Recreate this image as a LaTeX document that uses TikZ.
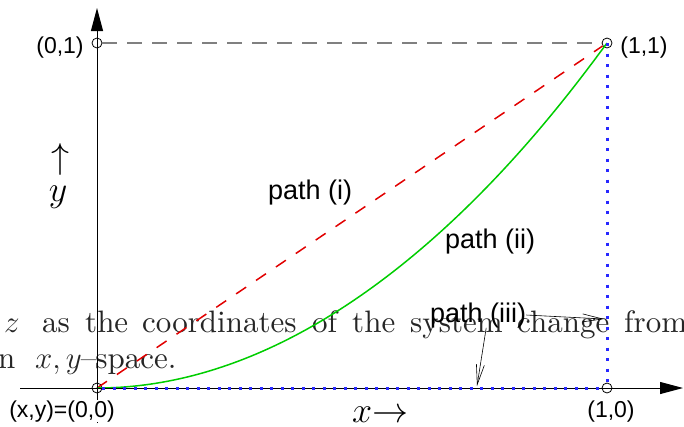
\RequirePackage{fix-cm}
\documentclass[tikz,border=0pt]{standalone}
\usepackage{fontspec}
\usepackage{tikz}
\usetikzlibrary{arrows.meta,positioning}
\newfontfamily\labfont{Liberation Sans}
\newfontfamily\strayfont{lmroman10-regular.otf}
\definecolor{redpath}{RGB}{225,0,0}
\definecolor{greenpath}{RGB}{0,205,0}
\definecolor{bluepath}{RGB}{40,40,255}
\tikzset{
  pt/.style={draw,circle,inner sep=0pt,minimum size=10pt,line width=0.8pt},
  lab/.style={font=\labfont\fontsize{23}{23}\selectfont,inner sep=0pt,anchor=base},
  pathlab/.style={font=\labfont\fontsize{27}{27}\selectfont,inner sep=0pt,anchor=base west},
  big/.style={font=\fontsize{36}{36}\selectfont,inner sep=0pt},
  stray/.style={font=\strayfont\fontsize{31}{31}\selectfont,text=black!85,inner sep=0pt,anchor=base west},
  axis/.style={line width=1pt,-{Triangle[length=23pt,width=12pt]}},
  callout/.style={line width=0.6pt,-{Straight Barb[length=20pt,width=8pt]}}
}

\begin{document}
\begin{tikzpicture}[x=1pt,y=-1pt]
    \clip (0,0) rectangle (684,426);
    \foreach \x/\w in {4/$z$,42/as,85/the,142/coordinates,312/of,352/the,410/system,517/change,624/from} { \node[stray] (s\x) at (\x,332) {\w}; }
    \node[stray] (n1) at (-2,368) {n};
    \node[stray] (n2) at (35,368) {$x,y$\kern-1pt–\kern-1pt space.};
    \coordinate (xs) at (20,388);
    \coordinate (xe) at (683,388);
    \coordinate (ys) at (97,423);
    \coordinate (ye) at (97,8);
    \node[pt] (o) at (97,388) {};
    \node[pt] (x1) at (607,388) {};
    \node[pt] (y1) at (97,43) {};
    \node[pt] (p) at (607,43) {};
    \draw[black!50, line width=1.5pt, dash pattern=on 15pt off 10pt] (y1) -- (p);
    \draw[redpath, line width=1.5pt, dash pattern=on 12pt off 12pt] (o.center) -- (p);
    \draw[greenpath, line width=1.5pt] (o.center) parabola (p.center);
    \draw[axis] (xs) -- (xe);
    \draw[axis] (ys) -- (ye);
    \draw[bluepath, line width=3pt, dash pattern=on 3pt off 7.5pt] (o) -- (x1);
    \draw[bluepath, line width=3pt, dash pattern=on 3pt off 7.5pt] (p.center) -- (x1);
    \node[lab] (ly1) at (60,53) {(0,1)};
    \node[lab] (lp) at (644,53) {(1,1)};
    \node[lab, fill=white] (lo) at (62,417) {(x,y)=(0,0)};
    \node[lab] (lx1) at (611,417) {(1,0)};
    \node[pathlab] (l1) at (268,199) {path (i)};
    \node[pathlab] (l2) at (445,248) {path (ii)};
    \node[pathlab] (l3) at (430,322) {path (iii)};
    \coordinate (c1) at (604,319);
    \coordinate (c2) at (477,386);
    \draw[callout] (l3.east) -- (c1);
    \draw[callout] ([xshift=8pt]l3.south) -- (c2);
    \node[big, anchor=base] (up) at (60,168) {$\uparrow$};
    \node[big, anchor=base] (ly) at (58,201) {$y$};
    \node[big, anchor=base west] (lx) at (352,422) {$x\mathord{\rightarrow}$};
\end{tikzpicture}
\end{document}
